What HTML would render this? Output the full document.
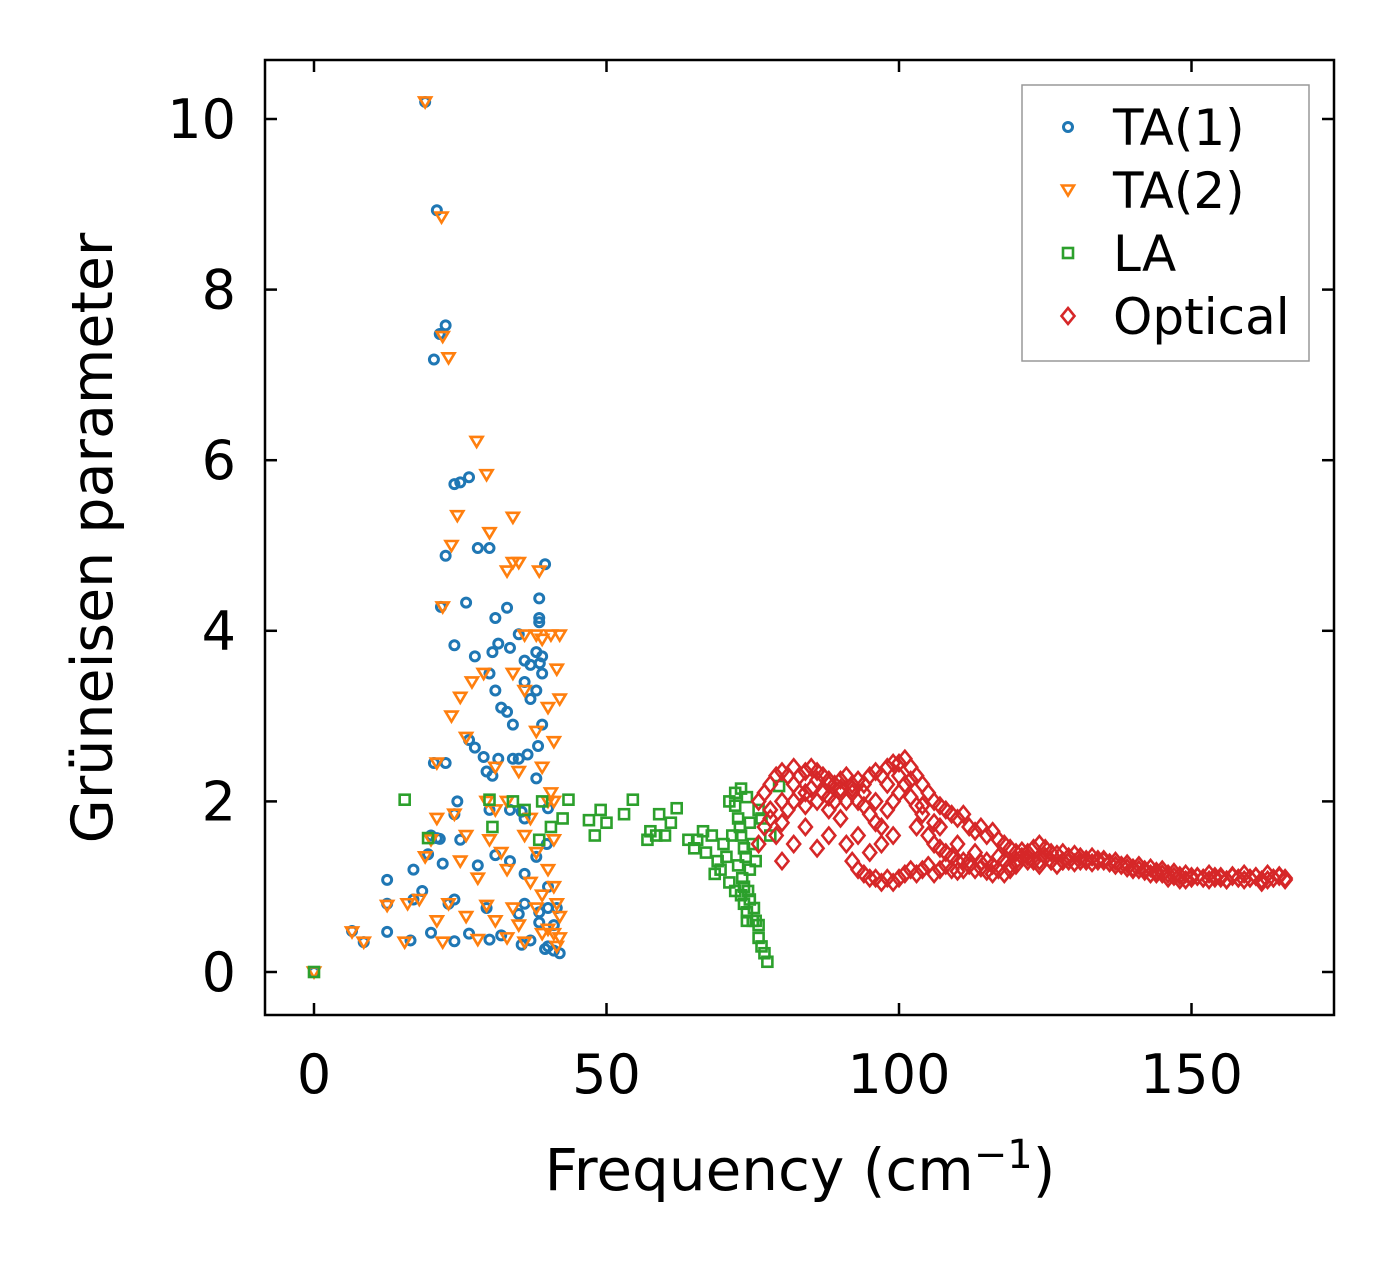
<!DOCTYPE html>
<html><head><meta charset="utf-8"><style>
body{margin:0;background:#fff}
svg{display:block;font-family:"DejaVu Sans","Liberation Sans",sans-serif}
</style></head><body>
<svg id="chart" width="1394" height="1264">
<rect x="0" y="0" width="1394" height="1264" fill="#fff"/>
<g id="marks"></g>
<rect x="265" y="60" width="1069" height="955" fill="none" stroke="#000" stroke-width="2.5"/>
<g id="axes"></g>
<text x="800" y="1190" text-anchor="middle" font-size="58">Frequency (cm<tspan font-size="40" dy="-22">−1</tspan><tspan dy="22">)</tspan></text>
<text transform="translate(112,538) rotate(-90)" text-anchor="middle" font-size="57">Grüneisen parameter</text>
<g>
<rect x="1022" y="85" width="287" height="276" fill="#fff" stroke="#999" stroke-width="1.5"/>
<g id="legend"></g>
</g>
</svg>
<script>
const xTicks=[0,50,100,150];
const yTicks=[0,2,4,6,8,10];
const ta1X=[0,19,21,22.5,21.5,20.5,24,25,26.5,22.5,28,30,21.7,26,39.5,38.5,38.5,38.5,31,33,24,27.5,30.5,31.5,35,33.5,36,37,38,39,38.6,30,32,33,31,36,37,38,39,39,38.3,36.5,35,34,26.5,27.5,29,29.5,30.5,31.5,34,38,22.5,20.5,24.5,24,30,33.5,35.5,36,40,39.8,25,28,22,20,21,21.5,19.5,17,12.5,18.5,17,12.5,23,24,29.5,35,36,38.5,40,41.5,12.5,20,26.5,32,37,6.5,8.5,16.5,24,30,35.5,38.5,40,41,42,39.5,31,33.5,36,38,40,41];
const ta1Y=[0,10.2,8.93,7.58,7.48,7.18,5.72,5.74,5.8,4.88,4.97,4.97,4.28,4.33,4.78,4.38,4.15,4.1,4.15,4.27,3.83,3.7,3.75,3.85,3.96,3.8,3.65,3.6,3.75,3.7,3.62,3.5,3.1,3.05,3.3,3.4,3.2,3.3,3.5,2.9,2.65,2.55,2.5,2.9,2.72,2.63,2.52,2.35,2.3,2.5,2.5,2.27,2.45,2.45,2.0,1.85,1.9,1.9,1.88,1.8,1.92,1.5,1.55,1.25,1.27,1.6,1.57,1.56,1.38,1.2,1.08,0.95,0.85,0.8,0.8,0.85,0.75,0.68,0.8,0.7,0.75,0.75,0.47,0.46,0.45,0.43,0.37,0.48,0.35,0.37,0.36,0.38,0.32,0.58,0.3,0.25,0.22,0.27,1.37,1.3,1.15,1.35,1.0,0.55];
const ta2X=[27.8,29.5,24.5,30,34,23.5,34,35,33,38.5,23,21.8,22,36,38,39,40.5,42,41.5,42,25,27,29,23.5,34,36,40,41,38,26,35,39,31,40.5,41,40,33,29.5,21,31,37,24,26,30,32,36,38,41,25,28,33,37,39,40,41,41.5,42,18,16,21,26,31,35,40,41,42,41.5,15.5,22,28,33,36,39,6.5,8.5,12.5,19,20,23,0,19,21,22,29.5,34,38];
const ta2Y=[6.22,5.83,5.35,5.15,5.33,5.0,4.8,4.8,4.7,4.7,7.2,8.85,7.45,3.95,3.95,3.9,3.95,3.95,3.55,3.2,3.22,3.4,3.5,3.0,3.5,3.3,3.1,2.7,2.82,2.75,2.35,2.4,2.4,2.1,2.0,2.0,2.0,2.0,1.8,1.9,1.8,1.85,1.6,1.55,1.4,1.6,1.4,1.55,1.3,1.1,1.2,1.05,0.9,1.2,1.0,0.8,0.65,0.85,0.8,0.6,0.65,0.6,0.55,0.5,0.45,0.4,0.3,0.35,0.35,0.38,0.4,0.35,0.45,0.47,0.35,0.78,1.35,1.55,0.8,0,10.2,2.45,4.28,0.78,0.75,0.75];
const laX=[15.5,19.5,30,30.5,34,36,38.5,39,40.5,43.5,42.5,47,48,49,50,53,54.5,57,57.5,58.5,59,60,61,62,64,65,65.5,66.5,67,68,69,69.5,70,70.5,71,71,72,72,72.5,73,73,73.5,73.5,74,74,74.5,74.5,74.5,75,75,75.5,76,76,76.5,77,77.5,76,78,79.5,72,73,74,75.5,68.5,72.5,73.5,71.5,76.5,0,73.2,74.2,75.2,73.8,72.8];
const laY=[2.02,1.57,2.02,1.7,2.0,1.9,1.55,2.0,1.7,2.02,1.8,1.78,1.6,1.9,1.75,1.85,2.02,1.55,1.65,1.6,1.85,1.6,1.75,1.92,1.55,1.45,1.55,1.65,1.4,1.6,1.3,1.2,1.5,1.35,1.05,2.0,1.95,2.1,1.8,2.15,1.6,1.0,0.8,2.05,0.7,1.2,1.75,0.85,0.6,1.5,1.3,0.55,0.4,0.3,0.22,0.12,1.9,1.6,2.18,0.95,0.9,0.6,0.6,1.15,1.25,1.45,1.6,1.8,0,1.1,0.95,0.75,1.35,1.7];
const optX=[76,77,78,79,80,81,82,83,84,85,86,87,88,89,90,91,92,93,94,95,96,97,98,99,100,101,102,103,104,105,106,107,108,109,110,111,112,113,114,115,116,117,118,119,120,121,122,123,124,125,126,127,128,129,130,131,132,133,134,135,136,137,138,139,140,141,142,143,144,145,146,147,148,149,150,151,152,153,154,155,156,157,158,159,160,161,162,163,164,165,166,
76,77,78,79,80,81,82,83,84,85,86,87,88,89,90,91,92,93,94,95,96,97,98,99,100,101,102,103,104,105,106,107,108,109,110,112,114,116,118,120,122,124,126,128,130,132,134,136,138,140,142,144,146,148,150,152,154,156,158,160,162,164,166,
80,82,84,86,88,90,91,92,93,94,95,96,97,98,99,100,101,102,103,104,105,106,107,108,109,110,111,112,113,114,115,116,117,118,119,120,122,124,126,128,
103,97,99,95,93,110,107,88,
78,80,82,84,86,88,90,92,94,96,98,100,102,104,106,111,113,115,117,119,121,123,125,127,129,131,133,135,137,139,141,143,145,147,149,151,153,155,157,159,161,163,165];
const optY=[2.0,2.1,2.2,2.3,2.35,2.3,2.4,2.3,2.35,2.4,2.35,2.3,2.25,2.2,2.25,2.3,2.2,2.25,2.2,2.3,2.35,2.3,2.4,2.45,2.45,2.5,2.4,2.3,2.2,2.1,2.0,1.95,1.9,1.85,1.8,1.85,1.7,1.65,1.7,1.6,1.65,1.55,1.5,1.45,1.4,1.42,1.4,1.45,1.5,1.45,1.4,1.38,1.4,1.35,1.38,1.35,1.32,1.35,1.32,1.3,1.28,1.3,1.25,1.27,1.22,1.25,1.2,1.22,1.18,1.2,1.15,1.17,1.13,1.15,1.12,1.12,1.1,1.15,1.1,1.12,1.08,1.13,1.1,1.15,1.1,1.12,1.08,1.15,1.1,1.13,1.1,
1.5,1.7,1.9,1.6,1.75,1.9,2.0,2.1,1.95,2.15,2.0,2.1,2.2,2.0,2.1,2.0,2.1,2.0,1.95,1.85,1.75,1.7,1.9,2.0,2.1,2.2,2.05,1.95,1.85,1.6,1.5,1.45,1.4,1.35,1.3,1.3,1.28,1.25,1.3,1.3,1.35,1.3,1.3,1.3,1.28,1.3,1.3,1.28,1.25,1.2,1.18,1.15,1.1,1.08,1.1,1.1,1.12,1.08,1.1,1.1,1.05,1.1,1.08,
1.3,1.5,1.7,1.45,1.9,1.8,1.5,1.3,1.2,1.15,1.1,1.1,1.05,1.1,1.05,1.1,1.15,1.2,1.15,1.2,1.25,1.15,1.2,1.25,1.2,1.18,1.2,1.25,1.2,1.22,1.18,1.15,1.2,1.15,1.2,1.25,1.3,1.25,1.3,1.3,
1.7,1.5,1.6,1.4,1.6,1.5,1.7,1.6,
1.8,2.0,2.2,2.1,2.25,2.05,2.15,2.15,2.1,2.0,2.2,2.3,2.25,1.95,1.75,1.3,1.4,1.3,1.35,1.25,1.35,1.3,1.35,1.25,1.3,1.3,1.28,1.32,1.25,1.22,1.2,1.15,1.15,1.12,1.08,1.12,1.08,1.1,1.12,1.08,1.12,1.08,1.12];
const legendLabels=["TA(1)","TA(2)","LA","Optical"];

const NS="http://www.w3.org/2000/svg";
const sx=v=>314+v*5.85;
const sy=v=>972-v*85.3;
const C=["#1f77b4","#ff7f0e","#2ca02c","#d62728"];
function mk(type,cx,cy,parent){
  let e;
  if(type===0){e=document.createElementNS(NS,"circle");e.setAttribute("cx",cx);e.setAttribute("cy",cy);e.setAttribute("r",4.5);}
  else if(type===1){e=document.createElementNS(NS,"polygon");e.setAttribute("points",`${cx-6},${cy-4.5} ${cx+6},${cy-4.5} ${cx},${cy+5.5}`);}
  else if(type===2){e=document.createElementNS(NS,"rect");e.setAttribute("x",cx-5);e.setAttribute("y",cy-5);e.setAttribute("width",10);e.setAttribute("height",10);}
  else {e=document.createElementNS(NS,"polygon");e.setAttribute("points",`${cx},${cy-8} ${cx+6.5},${cy} ${cx},${cy+8} ${cx-6.5},${cy}`);}
  e.setAttribute("fill","none");e.setAttribute("stroke",C[type]);e.setAttribute("stroke-width",type===0?3:2.6);
  parent.appendChild(e);return e;
}
const marks=document.getElementById("marks");
const series=[[ta1X,ta1Y,"ta1-point"],[ta2X,ta2Y,"ta2-point"],[laX,laY,"la-point"],[optX,optY,"optical-point"]];
series.forEach((s,t)=>{
  for(let i=0;i<s[0].length;i++){
    const e=mk(t,sx(s[0][i]),sy(s[1][i]),marks);
    
    
  }
});
const ax=document.getElementById("axes");
function ln(x1,y1,x2,y2){const l=document.createElementNS(NS,"line");l.setAttribute("x1",x1);l.setAttribute("y1",y1);l.setAttribute("x2",x2);l.setAttribute("y2",y2);l.setAttribute("stroke","#000");l.setAttribute("stroke-width",2.5);ax.appendChild(l);return l;}
function tx(x,y,s,anchor,name){const t=document.createElementNS(NS,"text");t.setAttribute("x",x);t.setAttribute("y",y);t.setAttribute("text-anchor",anchor);t.setAttribute("font-size",54);t.textContent=s;ax.appendChild(t);
  
  
  return t;}
xTicks.forEach(v=>{const x=sx(v);ln(x,1015,x,1003);ln(x,60,x,72);tx(x,1093,String(v),"middle","x-tick-label");});
yTicks.forEach(v=>{const y=sy(v);ln(265,y,277,y);ln(1334,y,1322,y);tx(236,y+19,String(v),"end","y-tick-label");});
const lg=document.getElementById("legend");
legendLabels.forEach((s,i)=>{
  const y=127+i*63;
  const e=mk(i,1068,y,lg);
  
  
  const t=document.createElementNS(NS,"text");t.setAttribute("x",1113);t.setAttribute("y",y+18);t.setAttribute("font-size",50);t.textContent=s;lg.appendChild(t);
  
  
});
</script>
</body></html>
